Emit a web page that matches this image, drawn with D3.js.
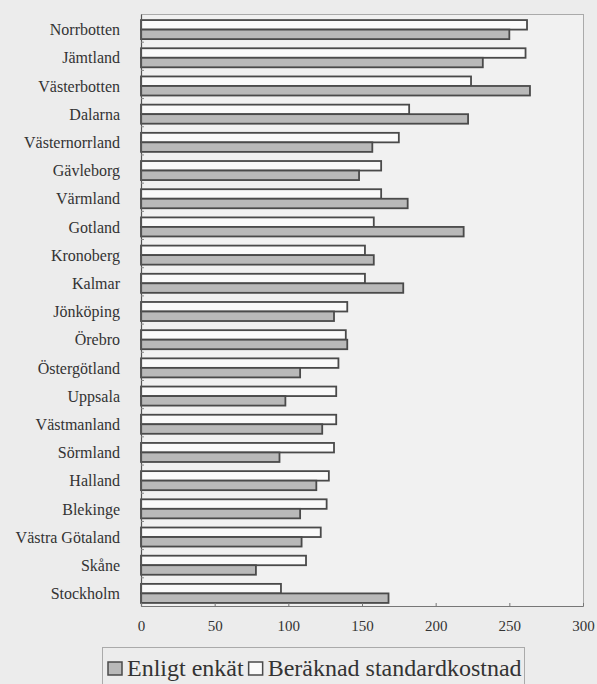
<!DOCTYPE html>
<html>
<head>
<meta charset="utf-8">
<script src="https://cdn.jsdelivr.net/npm/d3@7"></script>
<style>
  html, body { margin: 0; padding: 0; background: #ececec; }
  svg { display: block; }
  svg text { fill: #333; }
</style>
</head>
<body>
<svg id="chart" width="597" height="684"></svg>
<script>
const categories = ["Norrbotten","Jämtland","Västerbotten","Dalarna","Västernorrland","Gävleborg","Värmland","Gotland","Kronoberg","Kalmar","Jönköping","Örebro","Östergötland","Uppsala","Västmanland","Sörmland","Halland","Blekinge","Västra Götaland","Skåne","Stockholm"];
const enkat = [250, 232, 264, 222, 157, 148, 181, 219, 158, 178, 131, 140, 108, 98, 123, 94, 119, 108, 109, 78, 168];
const standard = [262, 261, 224, 182, 175, 163, 163, 158, 152, 152, 140, 139, 134, 132.5, 132.5, 131, 127.5, 126, 122, 112, 95];
const seriesNames = ["Enligt enkät", "Beräknad standardkostnad"];
const xTicks = [0, 50, 100, 150, 200, 250, 300];

const FONT = '"Liberation Serif", "Times New Roman", serif';
const svg = d3.select("#chart").attr("font-family", FONT);
const mLeft = 141, mRight = 583, mTop = 14, mBottom = 606;

svg.append("rect").attr("x", mLeft).attr("y", mTop).attr("width", mRight-mLeft).attr("height", mBottom-mTop)
  .attr("fill", "#f1f1f1");

const x = d3.scaleLinear().domain([0, 300]).range([mLeft, mRight]);
const y = d3.scaleBand().domain(categories).range([mTop, mBottom]);
const inner = d3.scaleBand().domain(["standard","enkat"]).range([0, y.bandwidth()]).paddingOuter(0.48).paddingInner(0);

const data = categories.map((c, i) => ({ c, enkat: enkat[i], standard: standard[i] }));

svg.append("line").attr("x1", mLeft).attr("x2", mRight).attr("y1", mTop+0.5).attr("y2", mTop+0.5).attr("stroke", "#aaa");
svg.append("line").attr("x1", mRight+0.5).attr("x2", mRight+0.5).attr("y1", mTop).attr("y2", mBottom).attr("stroke", "#aaa");

const g = svg.append("g").attr("transform", "translate(0,1.5)");
const groups = g.selectAll("g.cat").data(data).join("g").attr("class", "cat")
  .attr("transform", d => `translate(0,${y(d.c)})`);
groups.append("rect").attr("x", x(0)).attr("y", inner("standard"))
  .attr("width", d => x(d.standard) - x(0)).attr("height", inner.bandwidth())
  .attr("fill", "#fafafa").attr("stroke", "#4a4a4a").attr("stroke-width", 1.8);
groups.append("rect").attr("x", x(0)).attr("y", inner("enkat"))
  .attr("width", d => x(d.enkat) - x(0)).attr("height", inner.bandwidth())
  .attr("fill", "#b9b9b9").attr("stroke", "#4a4a4a").attr("stroke-width", 1.8);

const yAxis = svg.append("g").attr("transform", `translate(${mLeft},0)`)
  .call(d3.axisLeft(y).tickSize(0).tickPadding(21));
yAxis.attr("font-family", FONT);
yAxis.select(".domain").attr("stroke", "#555").attr("stroke-width", 1.2);
yAxis.selectAll("text").attr("font-size", 16).attr("dy", "0.45em").attr("fill", "#333");
svg.append("g").selectAll("line").data(categories.slice(1)).join("line")
  .attr("x1", mLeft).attr("x2", mLeft + 3)
  .attr("y1", d => y(d)).attr("y2", d => y(d)).attr("stroke", "#888");

const xAxis = svg.append("g").attr("transform", `translate(0,${mBottom})`)
  .call(d3.axisBottom(x).tickValues(xTicks).tickSize(-3).tickPadding(14).tickFormat(d3.format("d")));
xAxis.attr("font-family", FONT);
xAxis.select(".domain").attr("stroke", "#777");
xAxis.selectAll(".tick line").attr("stroke", "#777");
xAxis.selectAll("text").attr("font-size", 15).attr("fill", "#333");

const lg = svg.append("g");
lg.append("rect").attr("x", 102.5).attr("y", 647.5).attr("width", 422).attr("height", 60)
  .attr("fill", "none").attr("stroke", "#aaa");
let cx = 108;
const fills = ["#b9b9b9", "#fafafa"];
seriesNames.forEach((name, i) => {
  lg.append("rect").attr("x", cx).attr("y", 662).attr("width", 14).attr("height", 13)
    .attr("fill", fills[i]).attr("stroke", "#4a4a4a").attr("stroke-width", 1.5);
  const t = lg.append("text").attr("x", cx + 19).attr("y", 676).attr("font-size", 24).text(name);
  cx = cx + 19 + t.node().getComputedTextLength() + 5;
});
</script>
</body>
</html>
